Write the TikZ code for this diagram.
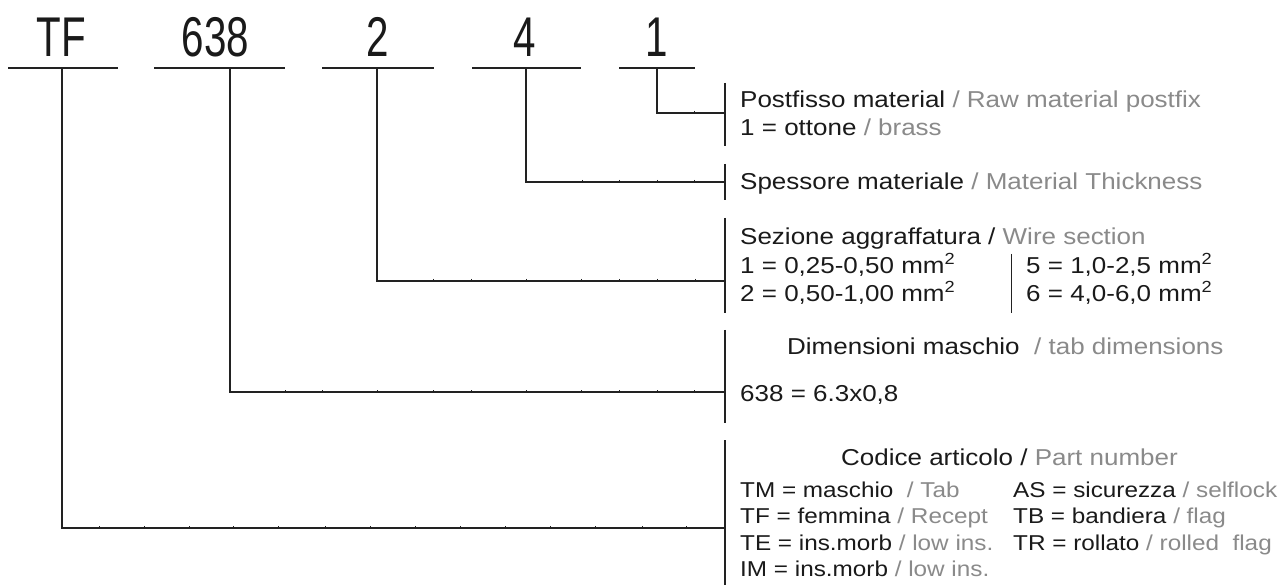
\documentclass[tikz,border=0pt]{standalone}
\usepackage{fontspec}
\setmainfont{Liberation Sans}[FakeStretch=1.13]
\newfontfamily\codefont{Liberation Sans}[FakeStretch=0.72]
\definecolor{en}{HTML}{8A8A8A}
\definecolor{itc}{HTML}{1A1A1A}
\definecolor{ln}{HTML}{222222}
\begin{document}
\begin{tikzpicture}[x=1pt,y=-1pt,
  code/.style={anchor=base,inner sep=0pt,text=itc,font=\codefont\fontsize{56}{56}\selectfont},
  txt/.style={anchor=base west,inner sep=0pt,text=itc,font=\fontsize{23}{27}\selectfont},
  small/.style={txt,font=\fontsize{21.5}{26}\selectfont},
  conn/.style={draw=ln,line width=1.1pt},
  bar/.style={draw=ln,line width=1.1pt},
  tick/.style={draw=ln,line width=0.6pt}]
\useasboundingbox[fill=white] (0,0) rectangle (1288,585);
\newcommand{\en}[1]{\textcolor{en}{#1}}
% top code labels
\node[code] (cTF) at (61.5,57) {TF};
\node[code] (c638) at (215.5,57) {638};
\node[code] (c2) at (378,57) {2};
\node[code] (c4) at (525,57) {4};
\node[code] (c1) at (657,57) {1};
% underlines
\coordinate (uTFa) at (8,68);   \coordinate (uTFb) at (118,68);
\coordinate (u638a) at (154,68); \coordinate (u638b) at (285,68);
\coordinate (u2a) at (322,68);  \coordinate (u2b) at (434,68);
\coordinate (u4a) at (472,68);  \coordinate (u4b) at (581,68);
\coordinate (u1a) at (619,68);  \coordinate (u1b) at (695,68);
\draw[conn] (uTFa) -- (uTFb);
\draw[conn] (u638a) -- (u638b);
\draw[conn] (u2a) -- (u2b);
\draw[conn] (u4a) -- (u4b);
\draw[conn] (u1a) -- (u1b);
% drop points
\coordinate (dTF) at (62,68);
\coordinate (d638) at (230,68);
\coordinate (d2) at (377,68);
\coordinate (d4) at (526,68);
\coordinate (d1) at (657,68);
% bar end points
\coordinate (e1) at (725,113);
\coordinate (e4) at (725,182);
\coordinate (e2) at (725,281);
\coordinate (e638) at (725,392);
\coordinate (eTF) at (725,528);
% connectors
\draw[conn] (d1) |- (e1);
\draw[conn] (d4) |- (e4);
\draw[conn] (d2) |- (e2);
\draw[conn] (d638) |- (e638);
\draw[conn] (dTF) |- (eTF);
% ticks on horizontal lines
\foreach \x in {694} {\draw[tick] (\x,111) -- (\x,114);}
\foreach \x in {582,619,657,694} {\draw[tick] (\x,180) -- (\x,183);}
\foreach \x in {433,471,526,581,619,657,695} {\draw[tick] (\x,279) -- (\x,282);}
\foreach \x in {285,322,377,433,471,526,581,619,657,694} {\draw[tick] (\x,390) -- (\x,393);}
\foreach \x in {99,144,189,233,278,325,370,415,460,505,550,595,642,686} {\draw[tick] (\x,526) -- (\x,529);}
% right bars
\draw[bar] (725,83) -- (725,146);
\draw[bar] (725,164) -- (725,200);
\draw[bar] (725,218) -- (725,313);
\draw[bar] (725,330) -- (725,423);
\draw[bar] (725,440) -- (725,585);
% texts
\node[txt] (t1a) at (740,108) {Postfisso material \en{/ Raw material postfix}};
\node[txt] (t1b) at (740,136) {1 = ottone \en{/ brass}};
\node[txt] (t4a) at (740,190) {Spessore materiale \en{/ Material Thickness}};
\node[txt] (t2a) at (740,245) {Sezione aggraffatura / \en{Wire section}};
\node[txt] (t2b) at (740,274) {1 = 0,25-0,50 mm\textsuperscript{2}};
\node[txt] (t2c) at (740,302) {2 = 0,50-1,00 mm\textsuperscript{2}};
\node[txt] (t2d) at (1026,274) {5 = 1,0-2,5 mm\textsuperscript{2}};
\node[txt] (t2e) at (1026,302) {6 = 4,0-6,0 mm\textsuperscript{2}};
\draw[bar,line width=1pt] (1011,254) -- (1011,313);
\node[txt] (t638a) at (787,355) {Dimensioni maschio\ \ \en{/ tab dimensions}};
\node[txt] (t638b) at (740,401) {638 = 6.3x0,8};
\node[txt] (tTFa) at (841,465) {Codice articolo / \en{Part number}};
\node[small] (tTFb) at (740,497) {TM = maschio\ \ \en{/ Tab}};
\node[small] (tTFc) at (740,523) {TF = femmina \en{/ Recept}};
\node[small] (tTFd) at (740,550) {TE = ins.morb \en{/ low ins.}};
\node[small] (tTFe) at (740,576) {IM = ins.morb \en{/ low ins.}};
\node[small] (tTFf) at (1013,497) {AS = sicurezza \en{/ selflock}};
\node[small] (tTFg) at (1013,523) {TB = bandiera \en{/ flag}};
\node[small] (tTFh) at (1013,550) {TR = rollato \en{/ rolled\ \ flag}};
\end{tikzpicture}
\end{document}
